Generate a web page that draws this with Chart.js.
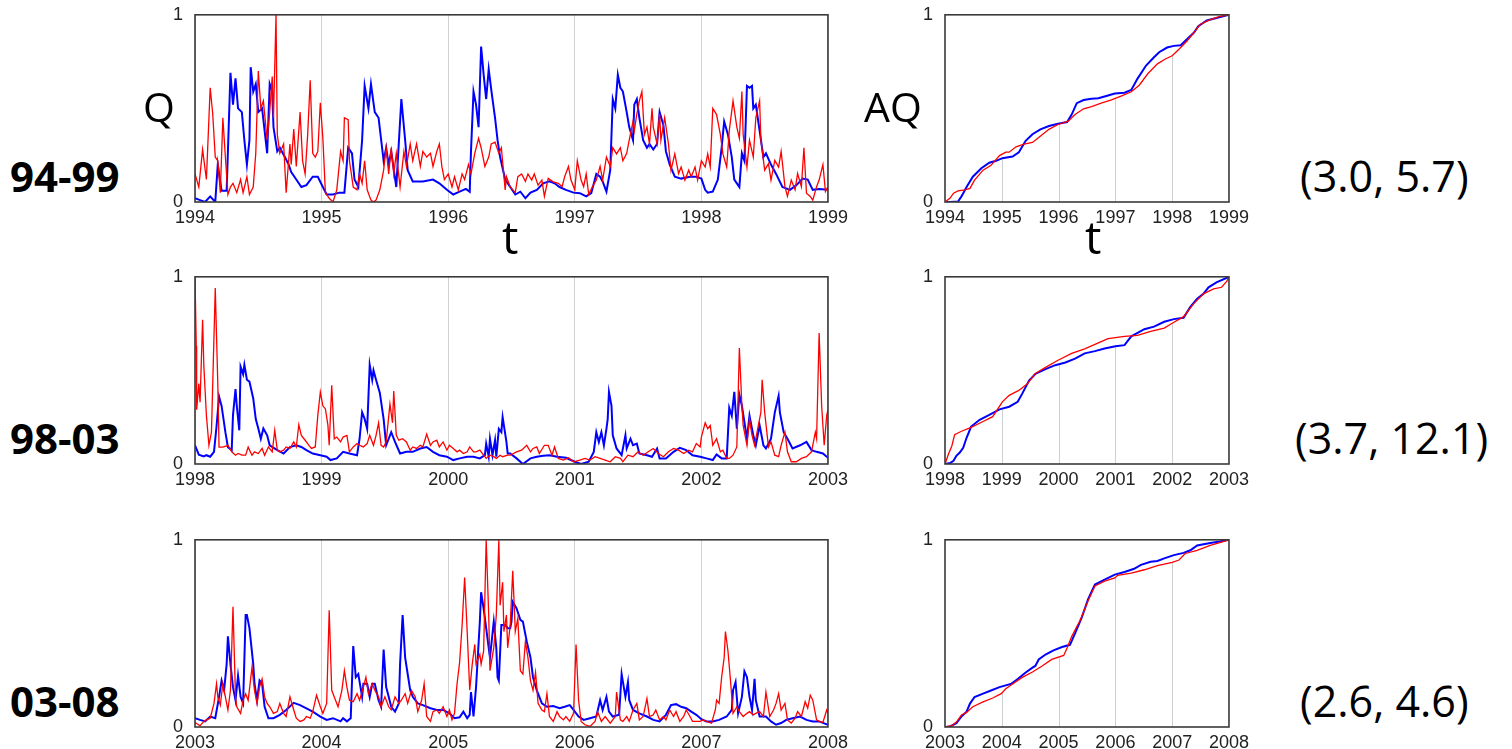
<!DOCTYPE html>
<html>
<head>
<meta charset="utf-8">
<script src="https://cdn.jsdelivr.net/npm/chart.js@4.4.0/dist/chart.umd.min.js"></script>
<style>
  body { margin: 0; background: #fff; width: 1512px; height: 749px; overflow: hidden; position: relative; }
  canvas { position: absolute; }
  .lbl { position: absolute; font-family: "Open Sans", sans-serif; color: #000; white-space: nowrap; }
</style>
</head>
<body>
<canvas id="q0" width="703" height="230"></canvas>
<canvas id="q1" width="703" height="230"></canvas>
<canvas id="q2" width="703" height="230"></canvas>
<canvas id="aq0" width="354" height="230"></canvas>
<canvas id="aq1" width="354" height="230"></canvas>
<canvas id="aq2" width="354" height="230"></canvas>
<script>
// periods and labels
var periods = [[1994, 1999], [1998, 2003], [2003, 2008]];
var rowNames = ['94-99', '98-03', '03-08'];
var pairLabels = ['(3.0, 5.7)', '(3.7, 12.1)', '(2.6, 4.6)'];

// Q series: [year, value]
var q9499Blue = [[1994.00,0.02],[1994.04,0.01],[1994.08,0],[1994.12,0.03],[1994.16,0],[1994.18,0.2],[1994.21,0.06],[1994.25,0.06],[1994.28,0.69],[1994.30,0.52],[1994.32,0.66],[1994.34,0.5],[1994.37,0.48],[1994.39,0.33],[1994.41,0.2],[1994.43,0.33],[1994.44,0.72],[1994.46,0.59],[1994.48,0.63],[1994.50,0.48],[1994.53,0.5],[1994.55,0.38],[1994.57,0.26],[1994.59,0.63],[1994.61,0.59],[1994.62,0.4],[1994.65,0.27],[1994.67,0.29],[1994.71,0.24],[1994.74,0.2],[1994.76,0.16],[1994.80,0.12],[1994.84,0.08],[1994.88,0.09],[1994.93,0.135],[1994.97,0.135],[1995.01,0.08],[1995.04,0.04],[1995.09,0.04],[1995.14,0.05],[1995.18,0.05],[1995.21,0.29],[1995.24,0.26],[1995.26,0.12],[1995.29,0.08],[1995.32,0.33],[1995.34,0.62],[1995.37,0.5],[1995.39,0.63],[1995.42,0.48],[1995.45,0.45],[1995.49,0.22],[1995.51,0.29],[1995.53,0.2],[1995.55,0.27],[1995.59,0.08],[1995.63,0.55],[1995.66,0.33],[1995.68,0.17],[1995.72,0.11],[1995.80,0.11],[1995.88,0.12],[1995.93,0.1],[1995.99,0.065],[1996.04,0.04],[1996.09,0.055],[1996.14,0.07],[1996.17,0.055],[1996.18,0.27],[1996.20,0.59],[1996.22,0.52],[1996.24,0.4],[1996.26,0.83],[1996.28,0.68],[1996.30,0.55],[1996.32,0.71],[1996.34,0.6],[1996.37,0.45],[1996.39,0.33],[1996.41,0.24],[1996.45,0.12],[1996.49,0.08],[1996.53,0.04],[1996.57,0.055],[1996.61,0.02],[1996.65,0.05],[1996.70,0.065],[1996.75,0.1],[1996.80,0.11],[1996.84,0.1],[1996.88,0.08],[1996.93,0.065],[1996.99,0.05],[1997.04,0.047],[1997.09,0.03],[1997.13,0.047],[1997.17,0.15],[1997.20,0.135],[1997.22,0.11],[1997.25,0.055],[1997.28,0.17],[1997.30,0.55],[1997.32,0.5],[1997.34,0.68],[1997.36,0.61],[1997.38,0.59],[1997.41,0.48],[1997.43,0.4],[1997.46,0.33],[1997.47,0.52],[1997.49,0.55],[1997.51,0.45],[1997.54,0.33],[1997.57,0.29],[1997.59,0.31],[1997.62,0.28],[1997.65,0.31],[1997.67,0.48],[1997.70,0.41],[1997.72,0.27],[1997.75,0.2],[1997.79,0.135],[1997.84,0.125],[1997.91,0.135],[1997.96,0.135],[1998.00,0.125],[1998.03,0.065],[1998.05,0.05],[1998.09,0.056],[1998.13,0.12],[1998.16,0.29],[1998.18,0.43],[1998.21,0.36],[1998.24,0.24],[1998.26,0.12],[1998.30,0.08],[1998.32,0.26],[1998.34,0.22],[1998.36,0.62],[1998.38,0.61],[1998.40,0.62],[1998.41,0.5],[1998.43,0.52],[1998.46,0.38],[1998.49,0.24],[1998.51,0.26],[1998.55,0.2],[1998.59,0.15],[1998.64,0.08],[1998.70,0.065],[1998.75,0.09],[1998.80,0.125],[1998.84,0.12],[1998.88,0.065],[1998.93,0.07],[1999.00,0.065]];
var q9499Red = [[1994.00,0.15],[1994.03,0.08],[1994.06,0.28],[1994.09,0.12],[1994.12,0.61],[1994.14,0.47],[1994.16,0.24],[1994.18,0.22],[1994.20,0.05],[1994.22,0.45],[1994.24,0.24],[1994.26,0.04],[1994.28,0.08],[1994.30,0.1],[1994.33,0.05],[1994.36,0.12],[1994.38,0.05],[1994.41,0.135],[1994.43,0.04],[1994.46,0.08],[1994.48,0.26],[1994.50,0.7],[1994.52,0.5],[1994.54,0.54],[1994.57,0.33],[1994.59,0.48],[1994.61,0.67],[1994.62,0.45],[1994.64,1.0],[1994.65,0.36],[1994.67,0.26],[1994.70,0.31],[1994.72,0.05],[1994.75,0.31],[1994.76,0.2],[1994.78,0.39],[1994.80,0.19],[1994.83,0.48],[1994.85,0.22],[1994.87,0.15],[1994.89,0.36],[1994.91,0.65],[1994.93,0.26],[1994.95,0.24],[1994.97,0.27],[1994.99,0.53],[1995.01,0.34],[1995.03,0.05],[1995.06,0.02],[1995.09,0],[1995.12,0.065],[1995.15,0.27],[1995.17,0.22],[1995.18,0.45],[1995.21,0.44],[1995.22,0.22],[1995.25,0.08],[1995.28,0.065],[1995.30,0.15],[1995.32,0.1],[1995.34,0.22],[1995.36,0.065],[1995.39,0.01],[1995.41,0],[1995.43,0.01],[1995.46,0.065],[1995.49,0.17],[1995.51,0.29],[1995.53,0.15],[1995.55,0.29],[1995.57,0.15],[1995.59,0.26],[1995.62,0.08],[1995.65,0.27],[1995.67,0.19],[1995.70,0.31],[1995.72,0.22],[1995.75,0.31],[1995.78,0.19],[1995.80,0.27],[1995.83,0.24],[1995.86,0.26],[1995.88,0.19],[1995.91,0.27],[1995.93,0.31],[1995.95,0.19],[1995.97,0.12],[1996.00,0.15],[1996.03,0.08],[1996.05,0.135],[1996.08,0.065],[1996.11,0.15],[1996.13,0.12],[1996.16,0.2],[1996.18,0.15],[1996.21,0.26],[1996.24,0.34],[1996.26,0.29],[1996.29,0.19],[1996.32,0.24],[1996.34,0.31],[1996.37,0.32],[1996.40,0.26],[1996.42,0.29],[1996.45,0.065],[1996.46,0.135],[1996.49,0.08],[1996.53,0.05],[1996.55,0.135],[1996.58,0.15],[1996.61,0.11],[1996.63,0.15],[1996.66,0.117],[1996.68,0.15],[1996.71,0.09],[1996.74,0.117],[1996.76,0.03],[1996.79,0.126],[1996.83,0.108],[1996.87,0.1],[1996.90,0.082],[1996.92,0.135],[1996.95,0.19],[1996.97,0.117],[1997.00,0.065],[1997.02,0.22],[1997.05,0.117],[1997.07,0.082],[1997.09,0.15],[1997.11,0.04],[1997.14,0.082],[1997.17,0.117],[1997.20,0.19],[1997.22,0.117],[1997.25,0.24],[1997.28,0.19],[1997.30,0.29],[1997.33,0.257],[1997.36,0.29],[1997.38,0.22],[1997.41,0.26],[1997.43,0.33],[1997.46,0.43],[1997.47,0.38],[1997.49,0.47],[1997.51,0.54],[1997.53,0.59],[1997.55,0.36],[1997.57,0.4],[1997.59,0.31],[1997.61,0.5],[1997.62,0.4],[1997.65,0.31],[1997.67,0.47],[1997.68,0.33],[1997.71,0.45],[1997.74,0.31],[1997.76,0.17],[1997.79,0.257],[1997.82,0.152],[1997.84,0.187],[1997.87,0.117],[1997.90,0.17],[1997.92,0.135],[1997.95,0.187],[1997.97,0.117],[1998.00,0.22],[1998.03,0.187],[1998.05,0.257],[1998.07,0.187],[1998.09,0.5],[1998.12,0.467],[1998.15,0.36],[1998.17,0.257],[1998.20,0.187],[1998.22,0.38],[1998.25,0.54],[1998.28,0.4],[1998.30,0.34],[1998.32,0.59],[1998.33,0.36],[1998.36,0.187],[1998.38,0.33],[1998.41,0.24],[1998.43,0.45],[1998.46,0.54],[1998.47,0.33],[1998.50,0.17],[1998.53,0.205],[1998.55,0.117],[1998.58,0.222],[1998.61,0.187],[1998.63,0.27],[1998.66,0.082],[1998.68,0.03],[1998.71,0.117],[1998.74,0.065],[1998.76,0.152],[1998.79,0.082],[1998.81,0.29],[1998.83,0.047],[1998.86,0.03],[1998.88,0.01],[1998.91,0.082],[1998.93,0.117],[1998.96,0.2],[1998.98,0.056],[1999.00,0.082]];

var q9803Blue = [[1998.00,0.1],[1998.03,0.05],[1998.07,0.04],[1998.09,0.047],[1998.12,0.039],[1998.15,0.065],[1998.17,0.2],[1998.19,0.36],[1998.21,0.31],[1998.24,0.17],[1998.26,0.09],[1998.29,0.074],[1998.30,0.26],[1998.32,0.4],[1998.33,0.31],[1998.35,0.18],[1998.36,0.52],[1998.38,0.48],[1998.39,0.53],[1998.41,0.45],[1998.43,0.44],[1998.46,0.35],[1998.48,0.24],[1998.50,0.19],[1998.52,0.135],[1998.54,0.19],[1998.57,0.153],[1998.59,0.1],[1998.65,0.074],[1998.70,0.056],[1998.75,0.09],[1998.80,0.1],[1998.84,0.091],[1998.88,0.074],[1998.93,0.056],[1998.99,0.047],[1999.04,0.039],[1999.07,0.021],[1999.12,0.03],[1999.17,0.065],[1999.22,0.056],[1999.28,0.047],[1999.30,0.135],[1999.32,0.276],[1999.34,0.241],[1999.36,0.188],[1999.38,0.53],[1999.40,0.45],[1999.41,0.5],[1999.43,0.45],[1999.46,0.38],[1999.49,0.24],[1999.51,0.1],[1999.55,0.17],[1999.58,0.118],[1999.62,0.056],[1999.67,0.065],[1999.72,0.065],[1999.78,0.083],[1999.83,0.091],[1999.88,0.065],[1999.93,0.047],[1999.99,0.039],[2000.04,0.021],[2000.09,0.03],[2000.15,0.039],[2000.20,0.039],[2000.25,0.03],[2000.29,0.047],[2000.30,0.109],[2000.32,0.039],[2000.33,0.135],[2000.35,0.047],[2000.37,0.127],[2000.38,0.039],[2000.40,0.188],[2000.42,0.17],[2000.43,0.25],[2000.46,0.118],[2000.47,0.056],[2000.49,0.056],[2000.54,0.03],[2000.59,0],[2000.65,0.03],[2000.70,0.039],[2000.75,0.044],[2000.80,0.047],[2000.86,0.039],[2000.93,0.033],[2001.00,0.012],[2001.05,0],[2001.11,0.012],[2001.15,0.065],[2001.17,0.17],[2001.19,0.118],[2001.21,0.17],[2001.23,0.1],[2001.25,0.188],[2001.26,0.24],[2001.27,0.385],[2001.29,0.311],[2001.30,0.153],[2001.33,0.083],[2001.37,0.047],[2001.40,0.153],[2001.41,0.083],[2001.44,0.135],[2001.46,0.1],[2001.49,0.109],[2001.51,0.056],[2001.57,0.047],[2001.61,0.039],[2001.65,0.083],[2001.67,0.03],[2001.72,0.03],[2001.78,0.065],[2001.83,0.086],[2001.88,0.074],[2001.93,0.047],[2001.99,0.039],[2002.04,0.03],[2002.09,0.021],[2002.12,0.051],[2002.16,0.03],[2002.20,0.03],[2002.22,0.3],[2002.24,0.258],[2002.26,0.385],[2002.28,0.188],[2002.30,0.37],[2002.32,0.311],[2002.36,0.135],[2002.38,0.258],[2002.41,0.153],[2002.43,0.1],[2002.46,0.206],[2002.49,0.1],[2002.51,0.083],[2002.55,0.135],[2002.58,0.276],[2002.61,0.364],[2002.62,0.276],[2002.65,0.17],[2002.68,0.135],[2002.72,0.083],[2002.78,0.1],[2002.83,0.118],[2002.87,0.074],[2002.91,0.065],[2002.96,0.056],[2003.00,0.033]];
var q9803Red = [[1998.00,1.0],[1998.01,0.63],[1998.013,0.29],[1998.03,0.43],[1998.04,0.33],[1998.06,0.77],[1998.07,0.52],[1998.09,0.26],[1998.11,0.1],[1998.13,0.17],[1998.16,0.94],[1998.18,0.43],[1998.19,0.09],[1998.22,0.09],[1998.26,0.1],[1998.29,0.065],[1998.32,0.047],[1998.34,0.056],[1998.37,0.047],[1998.40,0.047],[1998.42,0.09],[1998.45,0.047],[1998.47,0.065],[1998.50,0.056],[1998.53,0.083],[1998.55,0.047],[1998.58,0.091],[1998.61,0.065],[1998.63,0.18],[1998.65,0.074],[1998.67,0.065],[1998.70,0.074],[1998.72,0.091],[1998.75,0.083],[1998.78,0.118],[1998.80,0.091],[1998.82,0.21],[1998.84,0.153],[1998.87,0.127],[1998.90,0.1],[1998.92,0.083],[1998.95,0.091],[1998.97,0.26],[1998.99,0.385],[1999.01,0.311],[1999.03,0.294],[1999.05,0.206],[1999.06,0.1],[1999.08,0.42],[1999.10,0.135],[1999.12,0.144],[1999.15,0.118],[1999.17,0.144],[1999.20,0.153],[1999.22,0.065],[1999.25,0.091],[1999.28,0.109],[1999.30,0.1],[1999.33,0.091],[1999.36,0.109],[1999.38,0.153],[1999.41,0.1],[1999.43,0.153],[1999.45,0.22],[1999.47,0.1],[1999.49,0.091],[1999.51,0.118],[1999.54,0.32],[1999.56,0.22],[1999.57,0.39],[1999.59,0.153],[1999.61,0.127],[1999.64,0.135],[1999.67,0.118],[1999.70,0.074],[1999.72,0.091],[1999.75,0.083],[1999.78,0.1],[1999.80,0.091],[1999.83,0.16],[1999.86,0.1],[1999.88,0.118],[1999.91,0.127],[1999.93,0.091],[1999.96,0.118],[1999.99,0.074],[2000.01,0.1],[2000.04,0.083],[2000.07,0.065],[2000.09,0.074],[2000.12,0.056],[2000.15,0.065],[2000.17,0.091],[2000.20,0.065],[2000.22,0.065],[2000.25,0.074],[2000.28,0.047],[2000.30,0.03],[2000.33,0.047],[2000.36,0.039],[2000.38,0.03],[2000.41,0.047],[2000.43,0.039],[2000.47,0.047],[2000.49,0.047],[2000.54,0.065],[2000.58,0.074],[2000.62,0.1],[2000.65,0.065],[2000.67,0.083],[2000.70,0.091],[2000.72,0.056],[2000.76,0.1],[2000.79,0.1],[2000.82,0.047],[2000.84,0.091],[2000.87,0.03],[2000.91,0.021],[2000.95,0.033],[2000.99,0.012],[2001.04,0.021],[2001.08,0.03],[2001.12,0.021],[2001.16,0.039],[2001.20,0.03],[2001.24,0.021],[2001.28,0.012],[2001.32,0.039],[2001.36,0.03],[2001.38,0.012],[2001.42,0.047],[2001.46,0.039],[2001.50,0.065],[2001.54,0.047],[2001.58,0.065],[2001.62,0.083],[2001.66,0.056],[2001.70,0.039],[2001.74,0.065],[2001.78,0.083],[2001.82,0.074],[2001.86,0.056],[2001.90,0.074],[2001.93,0.065],[2001.96,0.109],[2001.99,0.091],[2002.00,0.144],[2002.03,0.22],[2002.05,0.188],[2002.07,0.206],[2002.09,0.1],[2002.12,0.135],[2002.15,0.065],[2002.17,0.074],[2002.20,0.03],[2002.22,0.03],[2002.25,0.047],[2002.28,0.091],[2002.30,0.62],[2002.32,0.311],[2002.33,0.206],[2002.36,0.1],[2002.38,0.24],[2002.40,0.153],[2002.42,0.1],[2002.45,0.206],[2002.47,0.276],[2002.48,0.45],[2002.50,0.276],[2002.53,0.091],[2002.55,0.118],[2002.58,0.047],[2002.61,0.039],[2002.63,0.1],[2002.66,0.17],[2002.68,0.065],[2002.71,0.012],[2002.75,0.012],[2002.79,0.03],[2002.83,0.039],[2002.87,0.065],[2002.90,0.17],[2002.91,0.135],[2002.93,0.7],[2002.95,0.311],[2002.97,0.1],[2002.99,0.26],[2003.00,0.29]];

var q0308Blue = [[2003.00,0.047],[2003.04,0.038],[2003.08,0.03],[2003.12,0.056],[2003.16,0.047],[2003.19,0.161],[2003.21,0.248],[2003.23,0.196],[2003.25,0.336],[2003.26,0.484],[2003.28,0.336],[2003.30,0.213],[2003.32,0.143],[2003.34,0.274],[2003.36,0.161],[2003.38,0.126],[2003.40,0.598],[2003.41,0.598],[2003.43,0.528],[2003.46,0.336],[2003.47,0.231],[2003.49,0.143],[2003.51,0.248],[2003.53,0.231],[2003.55,0.108],[2003.58,0.047],[2003.62,0.047],[2003.67,0.065],[2003.72,0.091],[2003.78,0.129],[2003.83,0.117],[2003.88,0.1],[2003.93,0.082],[2003.99,0.056],[2004.04,0.038],[2004.09,0.047],[2004.15,0.03],[2004.17,0.047],[2004.20,0.03],[2004.23,0.047],[2004.25,0.432],[2004.27,0.266],[2004.29,0.283],[2004.32,0.161],[2004.33,0.231],[2004.36,0.231],[2004.38,0.161],[2004.40,0.231],[2004.42,0.231],[2004.45,0.143],[2004.47,0.108],[2004.49,0.414],[2004.51,0.213],[2004.53,0.161],[2004.55,0.108],[2004.58,0.082],[2004.61,0.126],[2004.62,0.336],[2004.64,0.598],[2004.66,0.371],[2004.68,0.283],[2004.70,0.196],[2004.72,0.161],[2004.76,0.126],[2004.80,0.117],[2004.86,0.1],[2004.91,0.091],[2004.96,0.091],[2005.01,0.073],[2005.05,0.047],[2005.09,0.052],[2005.12,0.082],[2005.15,0.047],[2005.17,0.065],[2005.18,0.187],[2005.20,0.056],[2005.22,0.213],[2005.25,0.563],[2005.26,0.72],[2005.28,0.633],[2005.30,0.528],[2005.32,0.423],[2005.33,0.371],[2005.36,0.563],[2005.38,0.423],[2005.39,0.266],[2005.40,0.248],[2005.42,0.545],[2005.45,0.545],[2005.47,0.528],[2005.49,0.528],[2005.50,0.563],[2005.51,0.668],[2005.54,0.633],[2005.57,0.572],[2005.59,0.563],[2005.62,0.458],[2005.65,0.371],[2005.67,0.266],[2005.70,0.196],[2005.74,0.126],[2005.78,0.108],[2005.83,0.112],[2005.88,0.1],[2005.92,0.108],[2005.96,0.117],[2005.99,0.091],[2006.03,0.056],[2006.07,0.038],[2006.12,0.047],[2006.17,0.056],[2006.20,0.143],[2006.22,0.091],[2006.25,0.161],[2006.27,0.082],[2006.30,0.056],[2006.35,0.065],[2006.37,0.283],[2006.40,0.161],[2006.42,0.24],[2006.43,0.143],[2006.46,0.091],[2006.51,0.073],[2006.57,0.056],[2006.62,0.038],[2006.67,0.03],[2006.72,0.065],[2006.76,0.117],[2006.80,0.122],[2006.84,0.108],[2006.88,0.1],[2006.92,0.082],[2006.96,0.065],[2007.00,0.042],[2007.04,0.03],[2007.09,0.03],[2007.14,0.038],[2007.20,0.056],[2007.24,0.091],[2007.25,0.196],[2007.27,0.24],[2007.29,0.073],[2007.32,0.161],[2007.34,0.297],[2007.36,0.266],[2007.38,0.161],[2007.40,0.091],[2007.42,0.257],[2007.43,0.143],[2007.46,0.056],[2007.51,0.056],[2007.55,0.03],[2007.59,0.012],[2007.63,0.021],[2007.67,0.038],[2007.72,0.047],[2007.78,0.056],[2007.83,0.038],[2007.88,0.03],[2007.93,0.03],[2008.00,0.012]];
var q0308Red = [[2003.00,0.024],[2003.04,0.007],[2003.07,0.03],[2003.09,0.038],[2003.12,0.047],[2003.15,0.126],[2003.17,0.231],[2003.18,0.161],[2003.20,0.117],[2003.22,0.231],[2003.24,0.161],[2003.26,0.091],[2003.28,0.196],[2003.30,0.642],[2003.32,0.161],[2003.33,0.108],[2003.36,0.073],[2003.38,0.143],[2003.40,0.178],[2003.42,0.143],[2003.45,0.318],[2003.47,0.196],[2003.49,0.126],[2003.51,0.213],[2003.53,0.257],[2003.55,0.161],[2003.57,0.126],[2003.59,0.108],[2003.62,0.073],[2003.65,0.082],[2003.67,0.126],[2003.70,0.073],[2003.72,0.056],[2003.75,0.161],[2003.78,0.091],[2003.80,0.047],[2003.83,0.03],[2003.86,0.038],[2003.88,0.056],[2003.91,0.047],[2003.93,0.082],[2003.96,0.17],[2003.99,0.108],[2004.01,0.073],[2004.04,0.126],[2004.06,0.624],[2004.08,0.196],[2004.11,0.143],[2004.13,0.108],[2004.16,0.196],[2004.18,0.301],[2004.20,0.213],[2004.22,0.143],[2004.25,0.135],[2004.28,0.178],[2004.30,0.143],[2004.33,0.213],[2004.35,0.266],[2004.37,0.178],[2004.40,0.231],[2004.42,0.196],[2004.45,0.161],[2004.47,0.108],[2004.50,0.161],[2004.53,0.108],[2004.55,0.091],[2004.58,0.161],[2004.61,0.126],[2004.63,0.143],[2004.66,0.178],[2004.68,0.126],[2004.71,0.196],[2004.74,0.161],[2004.76,0.082],[2004.79,0.143],[2004.81,0.231],[2004.83,0.056],[2004.86,0.03],[2004.88,0.082],[2004.91,0.091],[2004.93,0.073],[2004.96,0.108],[2004.99,0.056],[2005.01,0.091],[2005.03,0.038],[2005.05,0.073],[2005.07,0.231],[2005.09,0.344],[2005.11,0.545],[2005.13,0.799],[2005.15,0.51],[2005.17,0.196],[2005.19,0.336],[2005.21,0.441],[2005.22,0.336],[2005.25,0.388],[2005.26,0.336],[2005.28,0.406],[2005.30,1.0],[2005.32,0.598],[2005.33,0.301],[2005.36,0.423],[2005.38,0.598],[2005.40,1.0],[2005.41,0.65],[2005.43,0.773],[2005.44,0.51],[2005.46,0.598],[2005.47,0.423],[2005.49,0.545],[2005.51,0.834],[2005.53,0.51],[2005.55,0.58],[2005.57,0.301],[2005.59,0.283],[2005.61,0.458],[2005.63,0.371],[2005.65,0.248],[2005.67,0.196],[2005.69,0.292],[2005.71,0.126],[2005.74,0.091],[2005.76,0.082],[2005.78,0.178],[2005.80,0.056],[2005.83,0.03],[2005.86,0.082],[2005.88,0.056],[2005.91,0.038],[2005.93,0.056],[2005.96,0.03],[2005.99,0.073],[2006.01,0.441],[2006.03,0.143],[2006.05,0.03],[2006.08,0.012],[2006.12,0.003],[2006.16,0.03],[2006.18,0.082],[2006.21,0.03],[2006.24,0.056],[2006.28,0.021],[2006.32,0.056],[2006.33,0.187],[2006.36,0.038],[2006.38,0.03],[2006.41,0.056],[2006.43,0.03],[2006.46,0.091],[2006.49,0.126],[2006.51,0.038],[2006.54,0.056],[2006.57,0.152],[2006.59,0.056],[2006.62,0.065],[2006.64,0.091],[2006.67,0.038],[2006.70,0.056],[2006.72,0.038],[2006.75,0.091],[2006.78,0.056],[2006.80,0.082],[2006.83,0.03],[2006.86,0.056],[2006.88,0.091],[2006.91,0.056],[2006.93,0.03],[2006.96,0.03],[2006.99,0.03],[2007.01,0.038],[2007.04,0.03],[2007.08,0.021],[2007.11,0.091],[2007.12,0.143],[2007.14,0.126],[2007.16,0.266],[2007.18,0.371],[2007.19,0.51],[2007.21,0.406],[2007.23,0.248],[2007.25,0.073],[2007.28,0.108],[2007.30,0.082],[2007.33,0.056],[2007.36,0.073],[2007.38,0.082],[2007.41,0.065],[2007.43,0.073],[2007.46,0.082],[2007.49,0.056],[2007.51,0.187],[2007.54,0.056],[2007.57,0.091],[2007.59,0.126],[2007.61,0.178],[2007.63,0.091],[2007.66,0.126],[2007.68,0.038],[2007.71,0.021],[2007.74,0.047],[2007.76,0.082],[2007.79,0.056],[2007.82,0.135],[2007.84,0.1],[2007.86,0.17],[2007.88,0.143],[2007.91,0.038],[2007.93,0.03],[2007.96,0.024],[2007.99,0.091],[2008.00,0.073]];

// AQ (cumulative) series: [year, value]
var aq9499Blue = [[1994,0],[1994.09,0],[1994.23,0.003],[1994.29,0.03],[1994.38,0.08],[1994.49,0.135],[1994.64,0.18],[1994.78,0.21],[1994.90,0.22],[1995.01,0.234],[1995.19,0.243],[1995.30,0.266],[1995.42,0.327],[1995.54,0.362],[1995.68,0.388],[1995.83,0.406],[1995.99,0.418],[1996.15,0.427],[1996.23,0.467],[1996.32,0.528],[1996.44,0.545],[1996.58,0.551],[1996.70,0.554],[1996.84,0.566],[1996.99,0.579],[1997.16,0.584],[1997.28,0.598],[1997.39,0.659],[1997.54,0.729],[1997.68,0.773],[1997.77,0.8],[1997.91,0.825],[1998.03,0.834],[1998.15,0.837],[1998.26,0.869],[1998.38,0.904],[1998.46,0.939],[1998.61,0.97],[1998.78,0.983],[1999,1.0]];
var aq9499Red = [[1994,0],[1994.09,0.021],[1994.15,0.047],[1994.23,0.059],[1994.35,0.065],[1994.44,0.073],[1994.52,0.117],[1994.67,0.17],[1994.81,0.196],[1994.96,0.248],[1995.07,0.266],[1995.13,0.266],[1995.25,0.295],[1995.39,0.309],[1995.54,0.318],[1995.65,0.344],[1995.83,0.388],[1995.99,0.414],[1996.17,0.432],[1996.29,0.467],[1996.44,0.498],[1996.58,0.51],[1996.75,0.528],[1996.93,0.545],[1997.10,0.566],[1997.28,0.589],[1997.42,0.624],[1997.57,0.685],[1997.74,0.738],[1997.88,0.764],[1998.00,0.781],[1998.12,0.816],[1998.26,0.86],[1998.38,0.904],[1998.49,0.948],[1998.67,0.974],[1998.84,0.991],[1999,1.0]];
var aq9803Blue = [[1998,0],[1998.09,0.005],[1998.15,0.017],[1998.20,0.044],[1998.26,0.061],[1998.32,0.087],[1998.38,0.14],[1998.46,0.2],[1998.61,0.236],[1998.78,0.262],[1998.96,0.292],[1999.13,0.306],[1999.28,0.332],[1999.36,0.376],[1999.48,0.446],[1999.59,0.481],[1999.77,0.507],[1999.94,0.528],[2000.12,0.542],[2000.29,0.563],[2000.46,0.591],[2000.64,0.603],[2000.81,0.617],[2001.00,0.629],[2001.16,0.635],[2001.28,0.682],[2001.51,0.72],[2001.68,0.734],[2001.86,0.76],[2002.03,0.774],[2002.20,0.781],[2002.32,0.839],[2002.44,0.883],[2002.55,0.909],[2002.64,0.944],[2002.78,0.97],[2003,1.0]];
var aq9803Red = [[1998,0],[1998.06,0.052],[1998.12,0.096],[1998.17,0.157],[1998.29,0.175],[1998.46,0.196],[1998.67,0.227],[1998.84,0.253],[1999.01,0.332],[1999.13,0.367],[1999.30,0.393],[1999.45,0.428],[1999.59,0.484],[1999.77,0.516],[1999.99,0.554],[2000.23,0.591],[2000.46,0.615],[2000.70,0.647],[2000.87,0.67],[2001.16,0.682],[2001.39,0.687],[2001.62,0.708],[2001.86,0.726],[2002.00,0.752],[2002.20,0.787],[2002.38,0.857],[2002.55,0.909],[2002.73,0.935],[2002.87,0.944],[2002.96,0.975],[2003,1.0]];
var aq0308Blue = [[2003,0],[2003.09,0.003],[2003.20,0.02],[2003.29,0.056],[2003.38,0.082],[2003.44,0.125],[2003.52,0.16],[2003.67,0.178],[2003.81,0.195],[2003.96,0.213],[2004.16,0.23],[2004.28,0.256],[2004.42,0.291],[2004.54,0.317],[2004.59,0.326],[2004.65,0.361],[2004.77,0.387],[2004.91,0.409],[2005.06,0.427],[2005.20,0.439],[2005.29,0.5],[2005.41,0.587],[2005.52,0.683],[2005.64,0.761],[2005.81,0.787],[2005.99,0.814],[2006.16,0.828],[2006.33,0.845],[2006.45,0.866],[2006.62,0.883],[2006.74,0.887],[2006.86,0.901],[2007.03,0.918],[2007.20,0.93],[2007.32,0.944],[2007.44,0.97],[2007.67,0.983],[2007.84,0.991],[2008,1.0]];
var aq0308Red = [[2003,0],[2003.12,0.007],[2003.20,0.026],[2003.29,0.064],[2003.38,0.078],[2003.49,0.108],[2003.67,0.134],[2003.84,0.155],[2003.99,0.178],[2004.07,0.204],[2004.19,0.23],[2004.36,0.265],[2004.54,0.294],[2004.71,0.326],[2004.88,0.361],[2005.09,0.382],[2005.15,0.422],[2005.23,0.483],[2005.38,0.57],[2005.52,0.674],[2005.64,0.753],[2005.81,0.779],[2005.99,0.796],[2006.04,0.81],[2006.28,0.822],[2006.51,0.84],[2006.74,0.862],[2007.00,0.88],[2007.12,0.892],[2007.23,0.927],[2007.44,0.944],[2007.67,0.97],[2007.87,0.988],[2008,1.0]];

var qBlue = [q9499Blue, q9803Blue, q0308Blue];
var qRed = [q9499Red, q9803Red, q0308Red];
var aqBlue = [aq9499Blue, aq9803Blue, aq0308Blue];
var aqRed = [aq9499Red, aq9803Red, aq0308Red];

var rowTop = [12, 274, 537];   // top of plot area per row
var tickFont = { family: 'Liberation Sans, Arial, sans-serif', size: 18 };

function valueAt(arr, t) {
  for (var i = 1; i < arr.length; i++) {
    if (arr[i][0] >= t) {
      var a = arr[i - 1], b = arr[i];
      return a[1] + (b[1] - a[1]) * (t - a[0]) / (b[0] - a[0]);
    }
  }
  return arr[arr.length - 1][1];
}

// frame around the plot, and drop lines for the cumulative panels
var framePlugin = {
  id: 'frame',
  beforeDatasetsDraw: function(chart, args, opts) {
    if (!opts.drop) return;
    var ctx = chart.ctx, a = chart.chartArea;
    var xs = chart.scales.x, ys = chart.scales.y;
    var ds = chart.data.datasets;
    ctx.save();
    ctx.strokeStyle = '#cfcfcf';
    ctx.lineWidth = 1;
    for (var yr = xs.min + 1; yr < xs.max; yr++) {
      var v = Math.min(valueAt(ds[0].raw, yr), valueAt(ds[1].raw, yr));
      var px = Math.round(xs.getPixelForValue(yr)) + 0.5;
      ctx.beginPath();
      ctx.moveTo(px, a.bottom);
      ctx.lineTo(px, ys.getPixelForValue(v));
      ctx.stroke();
    }
    ctx.restore();
  },
  afterDraw: function(chart) {
    var ctx = chart.ctx, a = chart.chartArea;
    ctx.save();
    ctx.strokeStyle = '#3a3a3a';
    ctx.lineWidth = 1.6;
    ctx.strokeRect(a.left, a.top, a.right - a.left, a.bottom - a.top);
    ctx.restore();
  }
};

function toXY(arr) {
  return arr.map(function(p) { return { x: p[0], y: p[1] }; });
}

function makePanel(id, left, row, red, blue, cumulative) {
  var el = document.getElementById(id);
  el.style.left = left + 'px';
  el.style.top = (rowTop[row] - 12) + 'px';
  var yr = periods[row];
  new Chart(el, {
    type: 'line',
    data: {
      datasets: [
        { data: toXY(red), raw: red, borderColor: '#ff0000', borderWidth: 1.3 },
        { data: toXY(blue), raw: blue, borderColor: '#0000ff', borderWidth: 2 }
      ]
    },
    options: {
      responsive: false,
      animation: false,
      devicePixelRatio: 1,
      layout: { padding: { top: 12, right: 24, left: 0, bottom: 0 } },
      elements: { point: { radius: 0 }, line: { tension: 0 } },
      plugins: { legend: { display: false }, tooltip: { enabled: false }, frame: { drop: cumulative } },
      scales: {
        x: {
          type: 'linear', min: yr[0], max: yr[1],
          afterFit: function(s) { s.height = 28; },
          ticks: { stepSize: 1, font: tickFont, color: '#222', padding: 5, maxRotation: 0,
                   callback: function(v) { return String(v); } },
          grid: { display: !cumulative, color: '#d2d2d2', lineWidth: 1, drawTicks: false },
          border: { display: false }
        },
        y: {
          min: 0, max: 1,
          afterFit: function(s) { s.width = 45; },
          ticks: { stepSize: 1, font: tickFont, color: '#222', padding: 4,
                   callback: function(v) { return String(v); } },
          grid: { display: false },
          border: { display: false }
        }
      }
    },
    plugins: [framePlugin]
  });
}

for (var r = 0; r < 3; r++) {
  makePanel('q' + r, 150, r, qRed[r], qBlue[r], false);
  makePanel('aq' + r, 900, r, aqRed[r], aqBlue[r], true);
}

// text labels, placed by baseline
function addLabel(text, left, baseline, size, bold) {
  var d = document.createElement('div');
  d.className = 'lbl';
  d.textContent = text;
  d.style.fontSize = size + 'px';
  d.style.lineHeight = size + 'px';
  if (bold) d.style.fontWeight = 'bold';
  d.style.left = left + 'px';
  d.style.top = Math.round(baseline - 0.888 * size) + 'px';
  document.body.appendChild(d);
}

var rowBase = [192, 454, 717];
var pairLeft = [1300, 1295, 1300];
for (var i = 0; i < 3; i++) {
  addLabel(rowNames[i], 10, rowBase[i], 42, true);
  addLabel(pairLabels[i], pairLeft[i], rowBase[i], 43, false);
}
addLabel('Q', 143, 122, 41, false);
addLabel('AQ', 864, 122, 41, false);
addLabel('t', 502, 254, 46, false);
addLabel('t', 1085, 254, 46, false);
</script>
</body>
</html>
